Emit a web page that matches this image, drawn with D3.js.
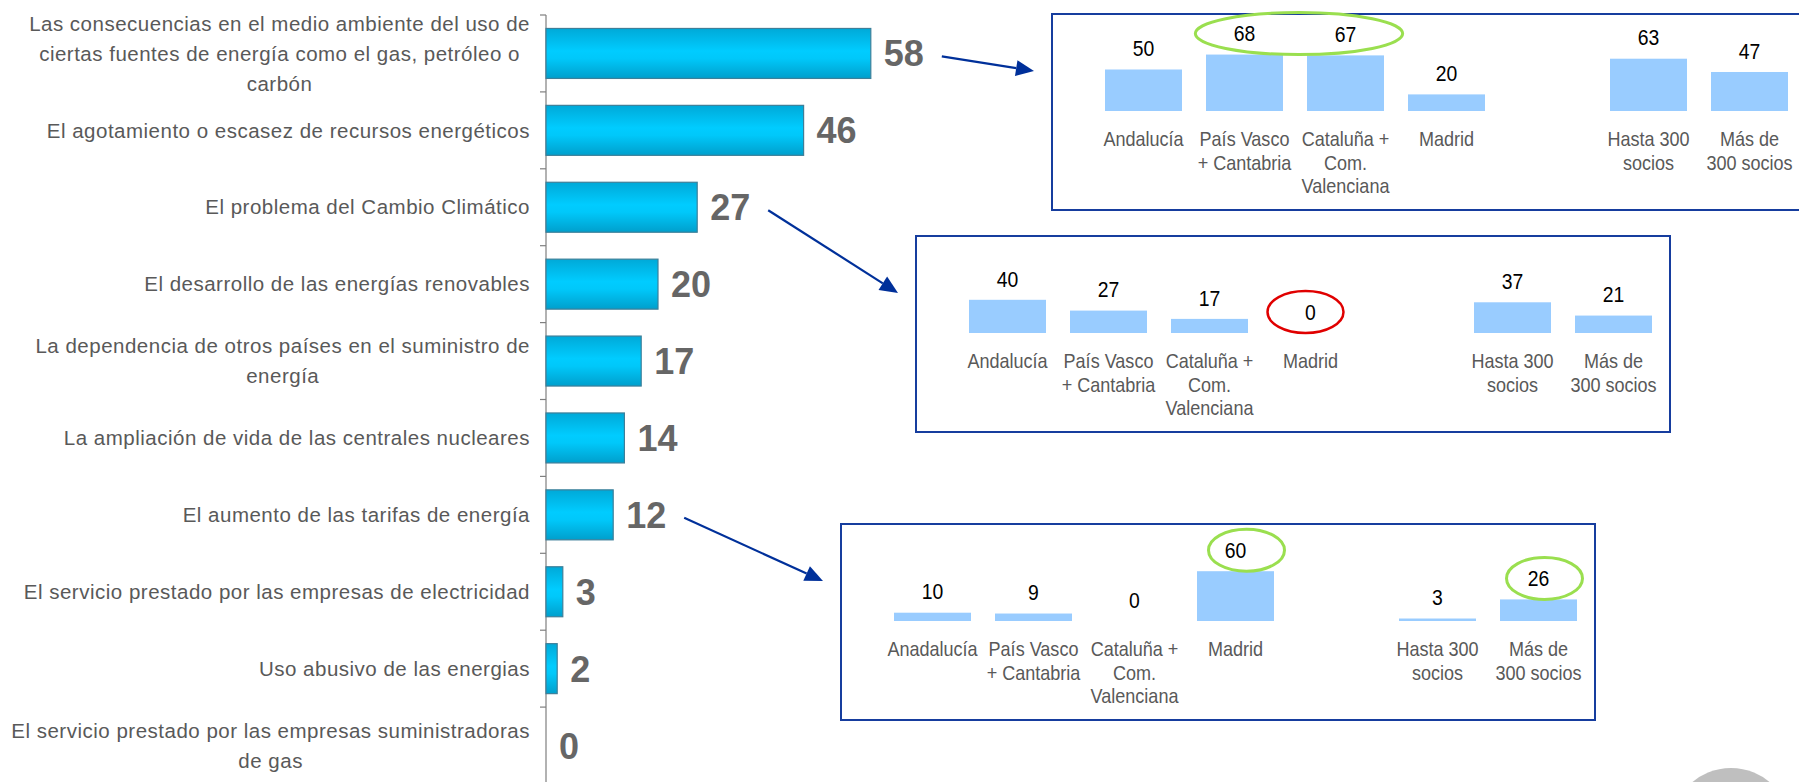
<!DOCTYPE html>
<html>
<head>
<meta charset="utf-8">
<script src="https://cdn.jsdelivr.net/npm/d3@7"></script>
<style>
  html, body { margin: 0; padding: 0; background: #ffffff; }
  svg { display: block; font-family: "Liberation Sans", Arial, sans-serif; }
</style>
</head>
<body>
<svg id="chart" width="1799" height="782"></svg>
<script>
// ---------- DATA ----------
const categories = [
  "Las consecuencias en el medio ambiente del uso de\nciertas fuentes de energía como el gas, petróleo o\ncarbón",
  "El agotamiento o escasez de recursos energéticos",
  "El problema del Cambio Climático",
  "El desarrollo de las energías renovables",
  "La dependencia de otros países en el suministro de\nenergía",
  "La ampliación de vida de las centrales nucleares",
  "El aumento de las tarifas de energía",
  "El servicio prestado por las empresas de electricidad",
  "Uso abusivo de las energias",
  "El servicio prestado por las empresas suministradoras\nde gas"
];
const values = [58, 46, 27, 20, 17, 14, 12, 3, 2, 0];

// breakdown boxes (regions + size of cooperative)
const regionLabelsA = ["Andalucía", "País Vasco\n+ Cantabria", "Cataluña +\nCom.\nValenciana", "Madrid"];
const regionLabelsB = ["Anadalucía", "País Vasco\n+ Cantabria", "Cataluña +\nCom.\nValenciana", "Madrid"];
const sizeLabels = ["Hasta 300\nsocios", "Más de\n300 socios"];

const box1Values = [50, 68, 67, 20, 63, 47]; // detail of item 0 (58)
const box2Values = [40, 27, 17, 0, 37, 21];  // detail of item 2 (27)
const box3Values = [10, 9, 0, 60, 3, 26];    // detail of item 6 (12)

// ---------- LAYOUT ----------
const W = 1799, H = 782;
const svg = d3.select("#chart");
const defs = svg.append("defs");

const grad = defs.append("linearGradient").attr("id", "barGrad")
  .attr("x1", 0).attr("y1", 0).attr("x2", 0).attr("y2", 1);
grad.append("stop").attr("offset", "0%").attr("stop-color", "#00A9D8");
grad.append("stop").attr("offset", "45%").attr("stop-color", "#00CCFF");
grad.append("stop").attr("offset", "60%").attr("stop-color", "#00C8FA");
grad.append("stop").attr("offset", "100%").attr("stop-color", "#009FCC");

const axisX = 546;
const x = d3.scaleLinear().domain([0, 100]).range([axisX, axisX + 560]);
const y = d3.scaleBand().domain(d3.range(categories.length))
  .range([15, 784]).paddingInner(0.35).paddingOuter(0.175);
const step = y.step();

const main = svg.append("g");

// axis line + ticks
main.append("line")
  .attr("x1", axisX).attr("x2", axisX)
  .attr("y1", y.range()[0]).attr("y2", H)
  .attr("stroke", "#7f7f7f").attr("stroke-width", 1.2);
main.selectAll(".tick").data(d3.range(categories.length))
  .join("line")
  .attr("x1", axisX - 6).attr("x2", axisX)
  .attr("y1", i => y.range()[0] + i * step)
  .attr("y2", i => y.range()[0] + i * step)
  .attr("stroke", "#7f7f7f").attr("stroke-width", 1.2);

// bars
main.selectAll(".bar").data(values.map((v, i) => ({ v, i })).filter(d => d.v > 0))
  .join("rect")
  .attr("x", x(0))
  .attr("y", d => y(d.i))
  .attr("width", d => x(d.v) - x(0))
  .attr("height", y.bandwidth())
  .attr("fill", "url(#barGrad)")
  .attr("stroke", "#3D7F99").attr("stroke-width", 1.2);

// value labels
const valueLabelX = d => x(d) + 13;
main.selectAll(".val").data(values)
  .join("text")
  .attr("x", d => valueLabelX(d))
  .attr("y", (d, i) => y(i) + y.bandwidth() / 2 + 13)
  .attr("font-size", 36).attr("font-weight", "bold")
  .attr("fill", "#666666")
  .text(d => d);

// category labels (multi-line, block right aligned, lines centred)
const labelRight = 530, linePitch = 30;
categories.forEach((c, i) => {
  const lines = c.split("\n");
  const g = main.append("g");
  const cy = y(i) + y.bandwidth() / 2;
  const texts = lines.map((ln, k) => g.append("text")
    .attr("y", cy + (k - (lines.length - 1) / 2) * linePitch)
    .attr("dy", "0.35em")
    .attr("font-size", 20.5).attr("letter-spacing", "0.5px")
    .attr("fill", "#595959")
    .attr("text-anchor", "middle")
    .text(ln));
  const widths = texts.map(t => t.node().getComputedTextLength());
  const maxW = d3.max(widths);
  texts.forEach(t => t.attr("x", labelRight - maxW / 2));
});

// ---------- DETAIL BOXES ----------
const boxW = 754, boxH = 196;
const hb = d3.scaleLinear().domain([0, 100]).range([0, 83]);
const slotIdx = [0, 1, 2, 3, 5, 6]; // slot 4 is an empty gap
const boxes = [
  { left: 1052, top: 14, vals: box1Values, labels: regionLabelsA.concat(sizeLabels), from: 0,
    marks: [{ a: 1, b: 2, color: "#9ADF4F", w: 3, dx: 4 }] },
  { left: 916, top: 236, vals: box2Values, labels: regionLabelsA.concat(sizeLabels), from: 2,
    marks: [{ a: 3, b: 3, color: "#E00000", w: 2.5, dx: -5 }] },
  { left: 841, top: 524, vals: box3Values, labels: regionLabelsB.concat(sizeLabels), from: 6,
    marks: [{ a: 3, b: 3, color: "#9ADF4F", w: 3, dx: 11 }, { a: 5, b: 5, color: "#9ADF4F", w: 3, dx: 6 }] }
];

function squeezedText(parent, tx, ty, str, opts) {
  return parent.append("g")
    .attr("transform", `translate(${tx},${ty}) scale(0.88,1)`)
    .append("text")
    .attr("text-anchor", "middle").attr("dy", "0.35em")
    .attr("font-size", opts.size).attr("fill", opts.fill)
    .text(str);
}

boxes.forEach(b => {
  const g = svg.append("g");
  const bx = d3.scaleBand().domain(d3.range(7))
    .range([b.left + 53, b.left + 53 + 7 * 101 - 24]).paddingInner(24 / 101).paddingOuter(0);
  const base = b.top + 97;

  g.append("rect")
    .attr("x", b.left).attr("y", b.top).attr("width", boxW).attr("height", boxH)
    .attr("fill", "none").attr("stroke", "#163D9E").attr("stroke-width", 2);

  // bars
  g.selectAll(".b").data(b.vals.map((v, k) => ({ v, s: slotIdx[k] })).filter(d => d.v > 0))
    .join("rect")
    .attr("x", d => bx(d.s)).attr("width", bx.bandwidth())
    .attr("y", d => base - hb(d.v)).attr("height", d => hb(d.v))
    .attr("fill", "#99CCFF");

  // values
  const labelY = v => base - hb(v) - 21;
  b.vals.forEach((v, k) => {
    squeezedText(g, bx(slotIdx[k]) + bx.bandwidth() / 2, labelY(v), v, { size: 22, fill: "#000000" });
  });

  // category labels
  b.labels.forEach((lab, k) => {
    lab.split("\n").forEach((ln, j) => {
      squeezedText(g, bx(slotIdx[k]) + bx.bandwidth() / 2, base + 28 + j * 23.5, ln, { size: 20.5, fill: "#595959" });
    });
  });

  // highlight ellipses
  b.marks.forEach(m => {
    const ca = bx(slotIdx[m.a]) + bx.bandwidth() / 2;
    const cb = bx(slotIdx[m.b]) + bx.bandwidth() / 2;
    const cy = Math.min(labelY(b.vals[m.a]), labelY(b.vals[m.b]));
    g.append("ellipse")
      .attr("cx", (ca + cb) / 2 + m.dx).attr("cy", cy)
      .attr("rx", 38 + (cb - ca) * 0.65).attr("ry", 21)
      .attr("fill", "none").attr("stroke", m.color).attr("stroke-width", m.w);
  });

  // arrow from the main value label to the box
  const v = values[b.from];
  const sx = valueLabelX(v) + 40 + 18;
  const sy = y(b.from) + y.bandwidth() / 2 + 3;
  const tx = b.left - 18, ty = b.top + 57;
  const ang = Math.atan2(ty - sy, tx - sx);
  const L = 18, hw = 8;
  const bxp = tx - L * Math.cos(ang), byp = ty - L * Math.sin(ang);
  svg.append("line")
    .attr("x1", sx).attr("y1", sy).attr("x2", bxp).attr("y2", byp)
    .attr("stroke", "#00309A").attr("stroke-width", 2.2);
  svg.append("polygon")
    .attr("points", [
      [tx, ty],
      [bxp + hw * Math.sin(ang), byp - hw * Math.cos(ang)],
      [bxp - hw * Math.sin(ang), byp + hw * Math.cos(ang)]
    ].map(p => p.join(",")).join(" "))
    .attr("fill", "#00309A");
});

// decorative grey disc at the bottom right corner
svg.append("circle").attr("cx", 1731).attr("cy", 828).attr("r", 60).attr("fill", "#BFBFBF");
</script>
</body>
</html>
